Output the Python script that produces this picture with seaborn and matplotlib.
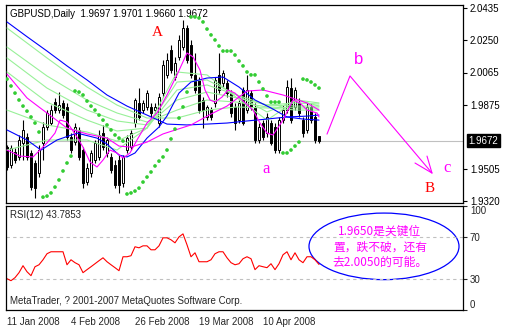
import matplotlib
matplotlib.use("Agg")
import matplotlib.pyplot as plt
import seaborn as sns
from matplotlib.patches import Ellipse

# ---------------- data ----------------
dates_idx = [0, 16, 32, 48, 64]
date_labels = ["11 Jan 2008", "4 Feb 2008", "26 Feb 2008", "19 Mar 2008", "10 Apr 2008"]

opens = [1.9634, 1.9530, 1.9605, 1.9577, 1.9658, 1.9692, 1.9600, 1.9542, 1.9484, 1.9658,
         1.9750, 1.9773, 1.9894, 1.9848, 1.9889, 1.9866, 1.9692, 1.9663, 1.9733, 1.9617,
         1.9432, 1.9484, 1.9559, 1.9577, 1.9715, 1.9600, 1.9577, 1.9530, 1.9559, 1.9426,
         1.9617, 1.9634, 1.9773, 1.9889, 1.9848, 1.9866, 1.9866, 1.9848, 1.9773, 1.9946,
         2.0051, 2.0195, 2.0039, 2.0155, 2.0212, 2.0322, 2.0224, 2.0051, 2.0022, 1.9906,
         1.9808, 1.9848, 1.9889, 2.0051, 2.0004, 2.0004, 1.9946, 1.9866, 1.9790, 1.9964,
         1.9848, 1.9946, 1.9866, 1.9675, 1.9773, 1.9715, 1.9773, 1.9750, 1.9617, 1.9790,
         1.9848, 1.9975, 1.9866, 1.9889, 1.9790, 1.9733, 1.9866, 1.9808, 1.9697]
closes = [1.9519, 1.9629, 1.9559, 1.9675, 1.9733, 1.9577, 1.9403, 1.9397, 1.9617, 1.9750,
          1.9831, 1.9848, 1.9848, 1.9877, 1.9819, 1.9692, 1.9617, 1.9750, 1.9577, 1.9426,
          1.9513, 1.9600, 1.9658, 1.9704, 1.9634, 1.9675, 1.9501, 1.9415, 1.9415, 1.9577,
          1.9686, 1.9715, 1.9906, 1.9808, 1.9889, 1.9946, 1.9831, 1.9866, 1.9923, 2.0108,
          2.0137, 2.0079, 2.0120, 2.0253, 2.0322, 2.0137, 2.0051, 1.9964, 1.9848, 1.9848,
          1.9866, 1.9808, 2.0022, 1.9964, 2.0062, 1.9946, 1.9831, 1.9773, 1.9889, 1.9773,
          1.9964, 1.9866, 1.9675, 1.9750, 1.9692, 1.9808, 1.9658, 1.9617, 1.9790, 1.9848,
          1.9981, 1.9790, 1.9964, 1.9831, 1.9715, 1.9866, 1.9790, 1.9675, 1.9672]
highs = [1.9646, 1.9646, 1.9629, 1.9704, 1.9790, 1.9715, 1.9617, 1.9559, 1.9646, 1.9779,
         1.9848, 1.9877, 1.9918, 1.9952, 1.9906, 1.9889, 1.9715, 1.9773, 1.9750, 1.9634,
         1.9542, 1.9617, 1.9675, 1.9733, 1.9762, 1.9692, 1.9600, 1.9559, 1.9588, 1.9588,
         1.9704, 1.9733, 1.9918, 1.9975, 1.9906, 1.9964, 1.9889, 1.9889, 1.9946, 2.0137,
         2.0178, 2.0224, 2.0155, 2.0282, 2.0368, 2.0340, 2.0253, 2.0178, 2.0039, 1.9923,
         1.9877, 1.9866, 2.0039, 2.0178, 2.0079, 2.0022, 1.9964, 1.9889, 1.9906, 1.9981,
         2.0051, 1.9964, 1.9889, 1.9773, 1.9790, 1.9831, 1.9790, 1.9773, 1.9808, 1.9877,
         2.0022, 2.0033, 1.9981, 1.9918, 1.9808, 1.9889, 1.9889, 1.9831, 1.9701]
lows = [1.9501, 1.9513, 1.9542, 1.9559, 1.9559, 1.9559, 1.9386, 1.9340, 1.9461, 1.9559,
        1.9733, 1.9762, 1.9831, 1.9831, 1.9802, 1.9675, 1.9600, 1.9646, 1.9559, 1.9397,
        1.9415, 1.9461, 1.9542, 1.9559, 1.9617, 1.9577, 1.9484, 1.9397, 1.9369, 1.9403,
        1.9600, 1.9617, 1.9750, 1.9790, 1.9831, 1.9848, 1.9808, 1.9831, 1.9750, 1.9923,
        2.0033, 2.0062, 2.0022, 2.0137, 2.0195, 2.0120, 2.0033, 1.9946, 1.9831, 1.9744,
        1.9790, 1.9790, 1.9866, 1.9946, 1.9981, 1.9923, 1.9808, 1.9733, 1.9773, 1.9762,
        1.9831, 1.9848, 1.9658, 1.9658, 1.9675, 1.9692, 1.9646, 1.9600, 1.9600, 1.9773,
        1.9831, 1.9773, 1.9848, 1.9808, 1.9692, 1.9715, 1.9773, 1.9658, 1.9660]

sar = [2.0027, 1.9987, 1.9946, 1.9906, 1.9871, 1.9842, 1.9808, 1.9773, 1.9721,
       1.9345, 1.9351, 1.9369, 1.9403, 1.9444, 1.9496, 1.9542, 1.9582,
       1.9958, 1.9952, 1.9935, 1.9900, 1.9871, 1.9848, 1.9819, 1.9790, 1.9762, 1.9733,
       1.9704, 1.9686, 1.9669,
       1.9363, 1.9369, 1.9380, 1.9397, 1.9432, 1.9461, 1.9490, 1.9525, 1.9553, 1.9577,
       1.9617, 1.9681, 1.9738, 1.9802, 1.9866, 1.9952,
       2.0386, 2.0386, 2.0380, 2.0357, 2.0316, 2.0282, 2.0253, 2.0218, 2.0189, 2.0189,
       2.0189, 2.0166, 2.0131, 2.0103, 2.0068, 2.0051, 2.0051, 2.0010, 1.9970, 1.9929,
       1.9894, 1.9894, 1.9894,
       1.9600, 1.9600, 1.9617, 1.9640, 1.9663,
       2.0027, 2.0022, 2.0010, 1.9993, 1.9975]

rsi = [30.1, 28.2, 31.1, 35.9, 42.6, 36.8, 33.0, 41.6, 43.5, 48.3,
       54.1, 56.0, 56.0, 56.0, 56.0, 43.5, 48.3, 45.5, 43.5, 35.9,
       38.8, 41.6, 44.5, 47.4, 50.2, 46.4, 43.5, 40.7, 37.8, 51.2,
       51.2, 52.2, 60.8, 59.8, 61.7, 61.7, 57.9, 57.9, 61.7, 69.4,
       69.4, 67.5, 64.6, 70.3, 73.2, 62.7, 51.2, 55.0, 46.4, 46.4,
       46.4, 48.3, 54.1, 56.0, 56.0, 50.2, 45.5, 43.5, 44.5, 49.3,
       51.2, 49.3, 38.8, 42.6, 41.6, 40.7, 44.5, 38.8, 44.5, 53.1,
       56.0, 48.3, 55.0, 48.3, 45.5, 51.2, 51.2, 48.3, 43.79]

# moving averages (read at sample bars)
blue_slow_x = [0, 5, 10, 15, 20, 25, 30, 35, 40, 45, 50, 55, 60, 65, 70, 75, 78]
blue_slow_y = [2.0357, 2.0272, 2.0189, 2.0103, 2.0022, 1.9935, 1.9871, 1.9819, 1.9767,
               1.9762, 1.9767, 1.9773, 1.9785, 1.9796, 1.9808, 1.9813, 1.9819]
blue_fast_x = [0, 5, 8.5, 12.5, 17.5, 22.5, 25, 28, 30, 32, 35, 38, 40, 43, 46, 50, 54,
               58, 62, 66, 70, 74, 78]
blue_fast_y = [1.9733, 1.9675, 1.9617, 1.9675, 1.9715, 1.9686, 1.9652, 1.9588, 1.9577,
               1.9600, 1.9686, 1.9750, 1.9814, 1.9946, 2.0010, 2.0033, 2.0039, 1.9981,
               1.9906, 1.9860, 1.9808, 1.9796, 1.9790]
mag_slow_x = [0, 5, 9, 15, 20, 25, 28, 31, 35, 39, 46, 51, 55, 60, 64, 69, 75, 78]
mag_slow_y = [2.0056, 1.9918, 1.9848, 1.9744, 1.9710, 1.9686, 1.9640, 1.9634, 1.9663,
              1.9710, 1.9762, 1.9825, 1.9871, 1.9958, 1.9964, 1.9935, 1.9889, 1.9848]
mag_fast_x = [0, 3.25, 6.5, 10, 12, 13.25, 15, 17.5, 19, 20.75, 22.5, 24, 25.75, 27.5,
              29, 30.75, 32.5, 35, 37.5, 40, 42.5, 45, 46.5, 48.25, 49.5, 50.75, 52,
              53.75, 55.25, 57, 58.75, 61.5, 63.25, 65, 66.5, 69, 71.5, 73.25, 75,
              77.5, 78]
mag_fast_y = [1.9617, 1.9582, 1.9577, 1.9658, 1.9715, 1.9790, 1.9779, 1.9692, 1.9634,
              1.9548, 1.9519, 1.9559, 1.9617, 1.9600, 1.9571, 1.9600, 1.9675, 1.9773,
              1.9831, 1.9935, 2.0051, 2.0178, 2.0155, 2.0079, 1.9964, 1.9906, 1.9894,
              1.9923, 1.9964, 1.9946, 1.9906, 1.9848, 1.9773, 1.9715, 1.9704, 1.9790,
              1.9906, 1.9889, 1.9848, 1.9831, 1.9808]
green_x = [0, 10, 20, 27.5, 35, 42.5, 50, 57.5, 65, 72.5, 78]
green_1 = [2.0322, 2.0149, 1.9981, 1.9877, 1.9802, 1.9802, 1.9848, 1.9866, 1.9860, 1.9848, 1.9848]
green_2 = [2.0212, 2.0045, 1.9906, 1.9831, 1.9779, 1.9848, 1.9906, 1.9894, 1.9866, 1.9860, 1.9860]
green_3 = [2.0149, 1.9975, 1.9848, 1.9785, 1.9762, 1.9906, 1.9952, 1.9918, 1.9877, 1.9871, 1.9871]
green_4 = [2.0068, 1.9894, 1.9790, 1.9727, 1.9744, 1.9964, 1.9993, 1.9935, 1.9877, 1.9889, 1.9883]
green_5 = [1.9848, 1.9762, 1.9721, 1.9669, 1.9744, 2.0010, 2.0022, 1.9935, 1.9837, 1.9906, 1.9889]
green_6 = [1.9617, 1.9675, 1.9675, 1.9617, 1.9744, 2.0068, 2.0051, 1.9918, 1.9790, 1.9906, 1.9871]

price_ticks = [2.0435, 2.0250, 2.0065, 1.9875, 1.9505, 1.9320]
last_price = 1.9672
title = "GBPUSD,Daily  1.9697 1.9701 1.9660 1.9672"

# ---------------- style ----------------
sns.set_style("white")
plt.rcParams['font.family'] = ['Liberation Sans', 'Noto Sans CJK SC', 'DejaVu Sans']
plt.rcParams['axes.linewidth'] = 0.9

W, H = 506, 329
fig = plt.figure(figsize=(W / 100, H / 100), dpi=100)
fig.patch.set_facecolor('white')
ax = fig.add_axes([6 / W, 1 - 203 / H, 457 / W, 198 / H])
ax2 = fig.add_axes([6 / W, 1 - 310 / H, 457 / W, 104 / H])

bars = list(range(len(closes)))
xlim = (-0.25, 114)

# ---------- main panel ----------
ax.axhline(last_price, color='#C0C0C0', lw=0.8, zorder=1)

ax.vlines(bars, lows, highs, color='black', lw=0.8, zorder=2)
body_bottom = [min(o, c) for o, c in zip(opens, closes)]
body_h = [max(abs(c - o), 0.00025) for o, c in zip(opens, closes)]
face = ['black' if c < o else 'white' for o, c in zip(opens, closes)]
ax.bar(bars, body_h, bottom=body_bottom, width=0.7, color=face,
       edgecolor='black', linewidth=0.7, zorder=2.5)

for gy in [green_1, green_2, green_3, green_4, green_5, green_6]:
    sns.lineplot(x=green_x, y=gy, ax=ax, color='#98F098', lw=0.8, legend=False,
                 estimator=None, sort=False, zorder=3)
sns.lineplot(x=blue_slow_x, y=blue_slow_y, ax=ax, color='#0000FF', lw=0.8,
             legend=False, estimator=None, sort=False, zorder=3.2)
sns.lineplot(x=blue_fast_x, y=blue_fast_y, ax=ax, color='#0000FF', lw=0.8,
             legend=False, estimator=None, sort=False, zorder=3.2)
sns.lineplot(x=mag_slow_x, y=mag_slow_y, ax=ax, color='#FF00FF', lw=0.8,
             legend=False, estimator=None, sort=False, zorder=3.3)
sns.lineplot(x=mag_fast_x, y=mag_fast_y, ax=ax, color='#FF00FF', lw=0.8,
             legend=False, estimator=None, sort=False, zorder=3.3)
sns.scatterplot(x=bars, y=sar, ax=ax, color='#33CC33', s=7, marker='o',
                edgecolor='none', legend=False, zorder=4)

# zigzag forecast arrow
ax.plot([80, 85.75, 106.25], [1.9709, 2.0045, 1.9484], color='#FF00FF', lw=0.8)
ax.plot([102, 106.25, 105], [1.9542, 1.9484, 1.9582], color='#FF00FF', lw=0.8)

serif = 'Liberation Serif'
ax.text(37.5, 2.0299, 'A', color='red', fontsize=11, family=serif, ha='center', va='center')
ax.text(105.75, 1.9392, 'B', color='red', fontsize=11, family=serif, ha='center', va='center')
ax.text(64.75, 1.9507, 'a', color='#FF00FF', fontsize=12, family=serif, ha='center', va='center')
ax.text(88, 2.0143, 'b', color='#FF00FF', fontsize=12, family='Liberation Sans', ha='center', va='center')
ax.text(110, 1.9513, 'c', color='#FF00FF', fontsize=12, family=serif, ha='center', va='center')

ax.set_xlim(*xlim)
ax.set_ylim(1.9311, 2.0455)
ax.set_xticks([])
ax.yaxis.tick_right()
ax.set_yticks(price_ticks)
ax.set_yticklabels([f"{t:.4f}" for t in price_ticks])
ax.tick_params(axis='y', direction='out', length=3, width=0.8, labelsize=7, pad=2,
               colors='black')
ax.set_xlabel('')
ax.set_ylabel('')
for s in ax.spines.values():
    s.set_color('black')
ax.annotate(f"{last_price:.4f}", xy=(1.0, last_price), xycoords=ax.get_yaxis_transform(),
            xytext=(4, 0), textcoords='offset points',
            color='white', fontsize=7, ha='left', va='center',
            bbox=dict(facecolor='black', edgecolor='black', boxstyle='square,pad=0.2'))
ax.text(4 / 457, 1 - 9 / 198, title, transform=ax.transAxes, fontsize=7,
        ha='left', va='center', color='black')

# ---------- RSI panel ----------
ax2.axhline(70, color='#C0C0C0', lw=0.8, ls=(0, (3, 3)))
ax2.axhline(30, color='#C0C0C0', lw=0.8, ls=(0, (3, 3)))
sns.lineplot(x=bars, y=rsi, ax=ax2, color='red', lw=0.8, legend=False,
             estimator=None, sort=False)
ax2.set_xlim(*xlim)
ax2.set_ylim(0, 100)
ax2.yaxis.tick_right()
ax2.set_yticks([100, 70, 30, 0])
ax2.set_yticklabels(['100', '70', '30', '0'])
ylabs = ax2.get_yticklabels()
ylabs[0].set_va('top')
ylabs[3].set_va('bottom')
ax2.tick_params(axis='y', direction='out', length=3, width=0.8, labelsize=7, pad=2)
ax2.set_xticks(dates_idx)
ax2.set_xticklabels(date_labels, ha='left')
ax2.tick_params(axis='x', direction='out', length=4, width=0.8, labelsize=7, pad=1)
ax2.set_xlabel('')
ax2.set_ylabel('')
for s in ax2.spines.values():
    s.set_color('black')

ax2.text(4 / 457, 1 - 9 / 104, 'RSI(12) 43.7853', transform=ax2.transAxes,
         fontsize=7, ha='left', va='center')
ax2.text(4 / 457, 9 / 104, 'MetaTrader, ? 2001-2007 MetaQuotes Software Corp.',
         transform=ax2.transAxes, fontsize=7, ha='left', va='center')

ell = Ellipse((94.25, 61.2), 37.5, 64, fill=False, edgecolor='#0000FF', lw=0.9)
ax2.add_patch(ell)
cjk = ['Noto Sans CJK SC', 'DejaVu Sans']
ax2.text(93.25, 76.1, '1.9650是关键位', color='#FF00FF', fontsize=8.5, family=cjk,
         ha='center', va='center')
ax2.text(93.25, 60.8, '置，跌不破，还有', color='#FF00FF', fontsize=8.5, family=cjk,
         ha='center', va='center')
ax2.text(93.25, 45.5, '去2.0050的可能。', color='#FF00FF', fontsize=8.5, family=cjk,
         ha='center', va='center')

fig.savefig('out.png', dpi=100, facecolor='white')
